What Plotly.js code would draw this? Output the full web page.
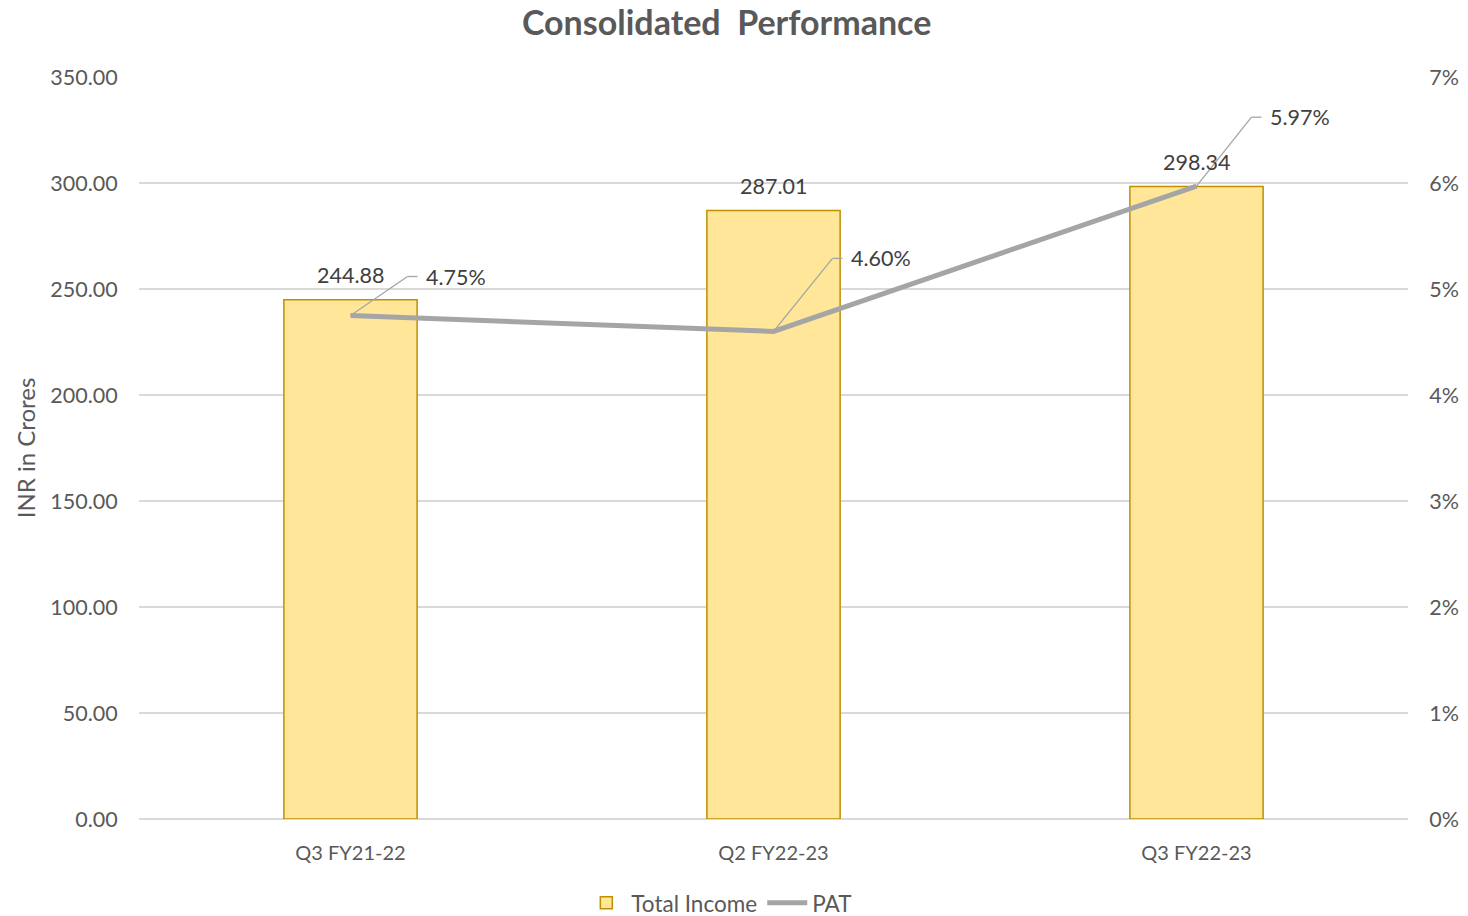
<!DOCTYPE html>
<html><head><meta charset="utf-8">
<script src="https://cdn.plot.ly/plotly-3.0.1.min.js"></script>
<style>html,body{margin:0;padding:0;background:#fff}#c{width:1468px;height:916px}</style>
</head><body><div id="c"></div>
<script>
const categories = ["Q3 FY21-22", "Q2 FY22-23", "Q3 FY22-23"];
const totalIncome = [244.88, 287.01, 298.34];
const pat = [0.0475, 0.0460, 0.0597];
const incomeLabels = ["244.88", "287.01", "298.34"];
const patLabels = ["4.75%", "4.60%", "5.97%"];
const leaderOffsets = [[57, 39], [59, 73], [55, 69]];

const font = "Lato, 'Open Sans', sans-serif";
const grey = "#595959";

const traces = [
  {type: "bar", name: "Total Income", x: categories, y: totalIncome,
   marker: {color: "#FFE699", line: {color: "#BF9000", width: 1.5}},
   width: 0.315, hoverinfo: "skip"},
  {type: "scatter", mode: "lines", name: "PAT", x: categories, y: pat, yaxis: "y2",
   line: {color: "#A5A5A5", width: 5}, hoverinfo: "skip"}
];

const annotations = [];
const shapes = [];
categories.forEach((c, i) => {
  annotations.push({x: c, y: totalIncome[i], xref: "x", yref: "y", text: incomeLabels[i],
    showarrow: false, yanchor: "bottom", yshift: 10, font: {family: font, size: 21.5, color: "#404040"}});
  const [dx, dy] = leaderOffsets[i];
  shapes.push({type: "line", xref: "x", yref: "y2", xsizemode: "pixel", ysizemode: "pixel",
    xanchor: c, yanchor: pat[i], x0: 0, y0: 0, x1: dx, y1: dy, line: {color: "#A5A5A5", width: 1.3}});
  shapes.push({type: "line", xref: "x", yref: "y2", xsizemode: "pixel", ysizemode: "pixel",
    xanchor: c, yanchor: pat[i], x0: dx, y0: dy, x1: dx + 10, y1: dy, line: {color: "#A5A5A5", width: 1.3}});
  annotations.push({x: c, y: pat[i], xref: "x", yref: "y2", text: patLabels[i], showarrow: false,
    xanchor: "left", yanchor: "middle", xshift: dx + 16, yshift: dy,
    font: {family: font, size: 21.5, color: "#404040"}});
});

const layout = {
  width: 1468, height: 916,
  margin: {l: 139, r: 60, t: 77, b: 97},
  paper_bgcolor: "#fff", plot_bgcolor: "#fff",
  font: {family: font, size: 21.5, color: grey},
  title: {text: "<b>Consolidated  Performance</b>", x: 0.495, xref: "container", y: 0.975, yref: "container",
    yanchor: "middle", font: {family: font, size: 34, color: grey}},
  xaxis: {type: "category", showgrid: false, zeroline: false, showline: false,
    ticks: "outside", ticklen: 16, tickcolor: "rgba(0,0,0,0)", tickfont: {size: 20, color: grey}},
  yaxis: {range: [0, 350], dtick: 50, tickformat: ".2f", showgrid: true, gridcolor: "#D9D9D9", gridwidth: 1.5,
    zeroline: true, zerolinecolor: "#D9D9D9", zerolinewidth: 1.5, showline: false,
    ticks: "outside", ticklen: 16, tickcolor: "rgba(0,0,0,0)", tickfont: {size: 21.5, color: grey},
    title: {text: "INR in Crores", font: {size: 24, color: grey}, standoff: 7}},
  yaxis2: {overlaying: "y", side: "right", range: [0, 0.07], dtick: 0.01, tickformat: ".0%",
    showgrid: false, zeroline: false, showline: false,
    ticks: "outside", ticklen: 16, tickcolor: "rgba(0,0,0,0)", tickfont: {size: 21.5, color: grey}},
  showlegend: true,
  legend: {orientation: "h", x: 0.49, xref: "container", xanchor: "center", y: 0.014, yref: "container",
    yanchor: "middle", font: {size: 22.5, color: grey}, itemwidth: 40, tracegroupgap: 0},
  annotations, shapes
};

Plotly.newPlot("c", traces, layout, {displayModeBar: false, staticPlot: true});
</script></body></html>
